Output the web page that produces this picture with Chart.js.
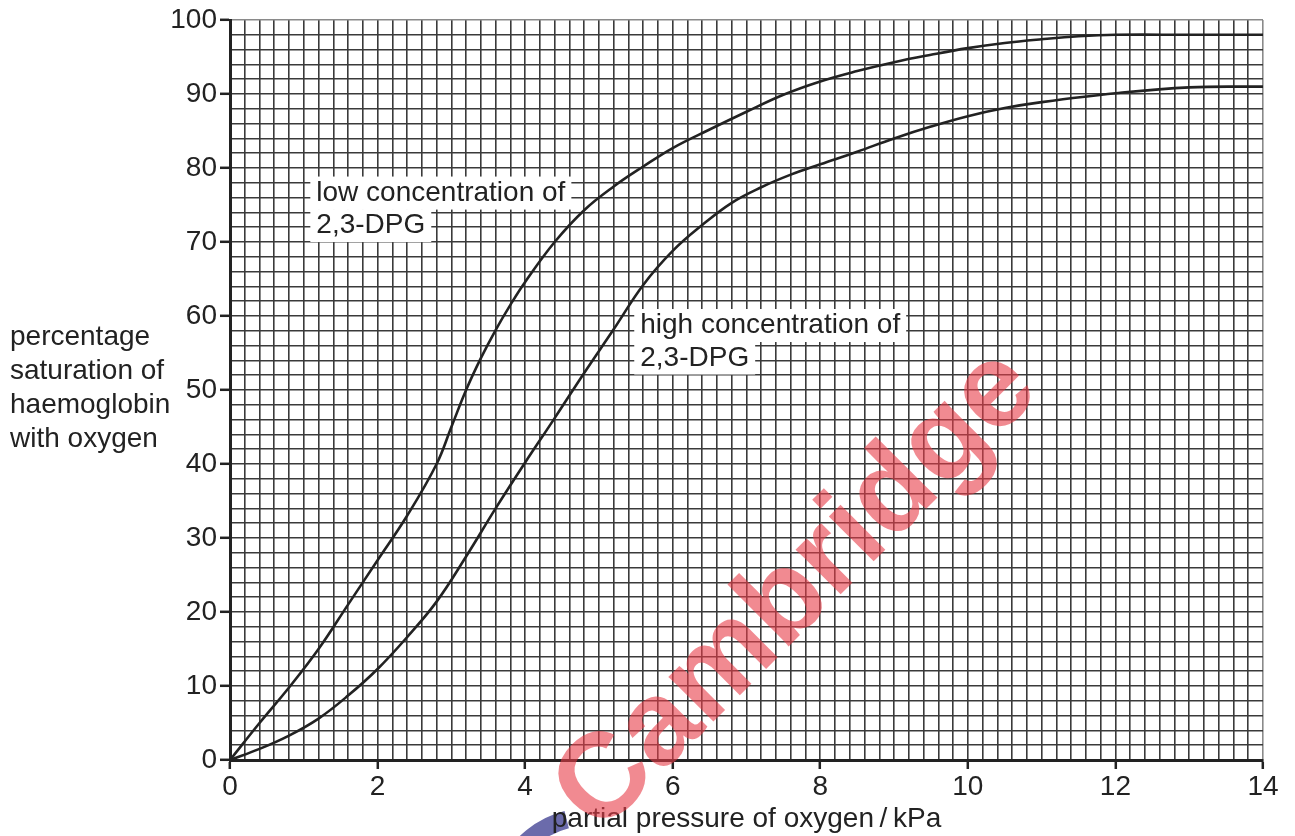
<!DOCTYPE html>
<html>
<head>
<meta charset="utf-8">
<script src="https://cdn.jsdelivr.net/npm/chart.js@4.4.1/dist/chart.umd.min.js"></script>
<style>
  html, body { margin: 0; padding: 0; background: #fff; }
  #wrap { width: 1295px; height: 836px; position: relative; }
</style>
</head>
<body>
<div id="wrap"><canvas id="chart"></canvas></div>
<script>
// partial pressure of oxygen (kPa) and % saturation
const lowX = [0, 0.4, 0.8, 1.2, 1.6, 2.0, 2.4, 2.8, 3.0, 3.2, 3.4, 3.6, 3.8, 4.0, 4.4, 4.8, 5.2, 5.6, 6.0, 6.5, 7.0, 7.5, 8.0, 8.5, 9.0, 9.5, 10.0, 10.5, 11.0, 11.5, 12.0, 13.0, 14.0];
const lowY = [0, 5, 9.8, 15, 21, 27, 33, 40, 45, 50, 54.3, 58.1, 61.5, 64.6, 70, 74.3, 77.5, 80.2, 82.7, 85.2, 87.6, 89.9, 91.7, 93.1, 94.3, 95.3, 96.2, 96.9, 97.4, 97.8, 98, 98, 98];
const highX = [0, 0.4, 0.8, 1.2, 1.6, 2.0, 2.4, 2.8, 3.2, 3.6, 4.0, 4.4, 4.8, 5.2, 5.6, 6.0, 6.4, 6.8, 7.2, 7.6, 8.0, 8.5, 9.0, 9.5, 10.0, 10.5, 11.0, 12.0, 13.0, 14.0];
const highY = [0, 1.5, 3.3, 5.6, 8.7, 12.3, 16.6, 21.4, 27.5, 34, 40.2, 46.2, 52.3, 58.2, 64.2, 68.8, 72.3, 75.3, 77.4, 79.1, 80.5, 82.2, 84, 85.6, 87.0, 88.1, 88.9, 90.1, 90.9, 91];

const xTitle = 'partial pressure of oxygen\u2009/\u2009kPa';
const yTitle = ['percentage', 'saturation of', 'haemoglobin', 'with oxygen'];
const curveLabels = [
  { x: 1.17, y: 75.6, lines: ['low concentration of', '2,3-DPG'] },
  { x: 5.56, y: 57.7, lines: ['high concentration of', '2,3-DPG'] }
];

const FONT = '"Liberation Sans", Arial, sans-serif';
const INK = '#222';

const toPoints = (xs, ys) => xs.map((x, i) => ({ x, y: ys[i] }));
const near = (v, step) => Math.abs(v / step - Math.round(v / step)) < 1e-6;

// white boxes + curve labels, under the curves
const labelPlugin = {
  id: 'curveLabels',
  beforeDatasetsDraw(chart) {
    const { ctx, scales } = chart;
    ctx.save();
    ctx.font = '28px ' + FONT;
    ctx.textBaseline = 'alphabetic';
    curveLabels.forEach(l => {
      const px = scales.x.getPixelForValue(l.x);
      const py = scales.y.getPixelForValue(l.y);
      l.lines.forEach((t, i) => {
        const b = py + i * 32.5;
        const w = ctx.measureText(t).width;
        ctx.fillStyle = '#fff';
        ctx.fillRect(px - 6, b - 24, w + 12, 33);
      });
      ctx.fillStyle = INK;
      l.lines.forEach((t, i) => ctx.fillText(t, px, py + i * 32.5));
    });
    ctx.restore();
  },
  afterDraw(chart) {
    const { ctx, chartArea } = chart;
    ctx.save();

    // bit of the blue logo under the x title
    ctx.beginPath();
    ctx.arc(588, 905, 88, 205 * Math.PI / 180, 256 * Math.PI / 180);
    ctx.strokeStyle = 'rgba(70, 70, 150, 0.8)';
    ctx.lineWidth = 18;
    ctx.stroke();

    ctx.fillStyle = INK;
    ctx.font = '28px ' + FONT;
    ctx.textAlign = 'left';
    yTitle.forEach((t, i) => ctx.fillText(t, 10, 345 + i * 34));
    ctx.textAlign = 'center';
    ctx.fillText(xTitle, (chartArea.left + chartArea.right) / 2, 827);

    // watermark
    ctx.translate(599, 836);
    ctx.rotate(-45 * Math.PI / 180);
    ctx.font = 'bold 120px ' + FONT;
    ctx.fillStyle = 'rgba(232, 60, 72, 0.6)';
    ctx.textAlign = 'left';
    ctx.textBaseline = 'alphabetic';
    ctx.fillText('Cambridge', 0, 0);
    ctx.restore();
  }
};

const curveStyle = {
  showLine: true,
  borderColor: INK,
  borderWidth: 2.6,
  pointRadius: 0,
  fill: false,
  tension: 0.4
};

new Chart(document.getElementById('chart'), {
  type: 'scatter',
  data: {
    datasets: [
      { label: 'low concentration of 2,3-DPG', data: toPoints(lowX, lowY), ...curveStyle },
      { label: 'high concentration of 2,3-DPG', data: toPoints(highX, highY), ...curveStyle }
    ]
  },
  options: {
    responsive: true,
    maintainAspectRatio: false,
    animation: false,
    layout: { padding: { left: 0, right: 32, top: 20, bottom: 0 } },
    plugins: { legend: { display: false }, tooltip: { enabled: false } },
    scales: {
      x: {
        type: 'linear',
        min: 0, max: 14,
        afterFit: s => { s.height = 76; },
        border: { display: true, color: INK, width: 3 },
        grid: {
          color: c => (c.index === 70 ? '#8a8a8a' : '#3a3a3a'),
          lineWidth: 1.6,
          tickLength: 9,
          tickColor: c => (c.tick && near(c.tick.value, 2) ? INK : 'rgba(0,0,0,0)'),
          tickWidth: 2.5
        },
        ticks: {
          stepSize: 0.2,
          autoSkip: false,
          maxRotation: 0,
          padding: 1,
          color: INK,
          font: { family: FONT, size: 28 },
          callback: v => (near(v, 2) ? Math.round(v) : '')
        }
      },
      y: {
        type: 'linear',
        min: 0, max: 100,
        afterFit: s => { s.width = 230; },
        border: { display: true, color: INK, width: 3 },
        grid: {
          color: c => (c.index === 50 ? '#8a8a8a' : '#3a3a3a'),
          lineWidth: 1.6,
          tickLength: 10,
          tickColor: c => (c.tick && near(c.tick.value, 10) ? INK : 'rgba(0,0,0,0)'),
          tickWidth: 2.5
        },
        ticks: {
          stepSize: 2,
          autoSkip: false,
          padding: 3,
          color: INK,
          font: { family: FONT, size: 28 },
          callback: v => (near(v, 10) ? Math.round(v) : '')
        }
      }
    }
  },
  plugins: [labelPlugin]
});
</script>
</body>
</html>
